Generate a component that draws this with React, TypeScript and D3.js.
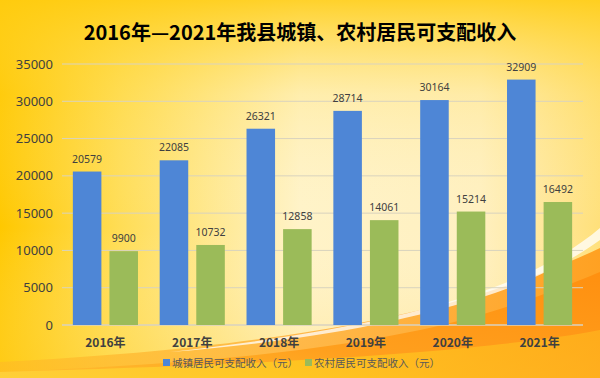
import React from "react";
import * as d3 from "d3";

const years = ["2016年", "2017年", "2018年", "2019年", "2020年", "2021年"];
const urban = [20579, 22085, 26321, 28714, 30164, 32909];
const rural = [9900, 10732, 12858, 14061, 15214, 16492];
const seriesNames = ["城镇居民可支配收入（元）", "农村居民可支配收入（元）"];
const seriesColors = ["#4E86D6", "#9BBB59"];
const yTicks = [0, 5000, 10000, 15000, 20000, 25000, 30000, 35000];
const title = "2016年—2021年我县城镇、农村居民可支配收入";

const W = 600, H = 378;
const left = 62, right = 583, top = 64, bottom = 325;

export default function App() {
  const x0 = d3.scaleBand<string>().domain(years).range([left, right]).paddingInner(0.25).paddingOuter(0.125);
  const x1 = d3.scaleBand<string>().domain(["u", "r"]).range([0, x0.bandwidth()]).paddingInner(0.22);
  const y = d3.scaleLinear().domain([0, 35000]).range([bottom, top]);
  const series = [urban, rural];
  const keys = ["u", "r"];
  const font = "'Noto Sans CJK SC', 'Noto Sans', sans-serif";

  return (
    <svg width={W} height={H} style={{ position: "absolute", left: 0, top: 0 }}>
      <defs>
        <linearGradient id="bgH" x1="0" y1="0" x2="1" y2="0">
          <stop offset="0" stopColor="#FFC800" />
          <stop offset="0.2" stopColor="#FFDD55" />
          <stop offset="0.5" stopColor="#FFF3C8" />
          <stop offset="0.8" stopColor="#FFF0C0" />
          <stop offset="1" stopColor="#FFE07A" />
        </linearGradient>
        <linearGradient id="bgV" x1="0" y1="0" x2="0" y2="1">
          <stop offset="0" stopColor="#FFCC10" stopOpacity="0.85" />
          <stop offset="0.25" stopColor="#FFD840" stopOpacity="0.2" />
          <stop offset="0.6" stopColor="#FFF8E0" stopOpacity="0" />
          <stop offset="1" stopColor="#FFD040" stopOpacity="0.3" />
        </linearGradient>
        <linearGradient id="orange" x1="0" y1="1" x2="1" y2="0">
          <stop offset="0" stopColor="#FFC030" />
          <stop offset="0.4" stopColor="#FFA01E" />
          <stop offset="1" stopColor="#FF9010" />
        </linearGradient>
        <linearGradient id="orange2" x1="0" y1="0" x2="1" y2="0">
          <stop offset="0" stopColor="#FFB828" stopOpacity="0.6" />
          <stop offset="0.5" stopColor="#FFA828" stopOpacity="0.85" />
          <stop offset="1" stopColor="#FF9A18" />
        </linearGradient>
        <linearGradient id="yellowBottom" x1="0" y1="0" x2="1" y2="0">
          <stop offset="0" stopColor="#FFE040" />
          <stop offset="0.5" stopColor="#FFE020" />
          <stop offset="1" stopColor="#FFC020" />
        </linearGradient>
      </defs>
      <rect x={0} y={0} width={W} height={H} fill="url(#bgH)" />
      <rect x={0} y={0} width={W} height={H} fill="url(#bgV)" />
      {/* orange wave bottom right */}
      <path d="M0,362 C200,352 350,330 460,300 C530,280 570,262 600,248 L600,378 L0,378 Z" fill="url(#orange2)" opacity="0.9" />
      <path d="M0,372 C200,364 350,350 470,318 C540,298 575,282 600,272 L600,378 L0,378 Z" fill="url(#orange)" />
      {/* white streak */}
      <path d="M170,352 C320,335 420,315 500,285 C550,265 580,245 600,228 L600,240 C575,258 545,275 495,293 C420,318 320,340 170,352 Z" fill="#FFFFFF" opacity="0.75" />
      <path d="M0,378 L0,372 C150,368 300,362 420,352 C500,345 560,338 600,330 L600,378 Z" fill="url(#yellowBottom)" opacity="0.5" />

      <text x={300} y={40} textAnchor="middle" fontFamily={font} fontWeight="bold" fontSize={20} fill="#000">{title}</text>

      {yTicks.map((t) => (
        <g key={t}>
          <line x1={left} x2={right} y1={y(t)} y2={y(t)} stroke={t === 0 ? "#D8D2C0" : "#D9D3BE"} strokeWidth={t === 0 ? 1.5 : 1} />
          <text x={53} y={y(t) + 4.5} textAnchor="end" fontFamily="'Noto Sans', sans-serif" fontSize={13} fill="#404040">{t}</text>
        </g>
      ))}

      {years.map((yr, i) => (
        <g key={yr}>
          {series.map((s, j) => {
            const bx = (x0(yr) as number) + (x1(keys[j]) as number);
            return (
              <g key={j}>
                <rect x={bx} y={y(s[i])} width={x1.bandwidth()} height={bottom - y(s[i])} fill={seriesColors[j]} />
                <text x={bx + x1.bandwidth() / 2} y={y(s[i]) - 9} textAnchor="middle" fontFamily="'Noto Sans', sans-serif" fontSize={10.5} fill="#404040">{s[i]}</text>
              </g>
            );
          })}
          <text x={(x0(yr) as number) + x0.bandwidth() / 2} y={347} textAnchor="middle" fontFamily={font} fontWeight="bold" fontSize={12} fill="#404040">{yr}</text>
        </g>
      ))}

      {seriesNames.map((n, j) => {
        const lx = j === 0 ? 163 : 305;
        return (
          <g key={n}>
            <rect x={lx} y={359} width={7} height={7} fill={seriesColors[j]} />
            <text x={lx + 9} y={366.5} fontFamily={font} fontSize={10.5} fill="#595959">{n}</text>
          </g>
        );
      })}
    </svg>
  );
}
